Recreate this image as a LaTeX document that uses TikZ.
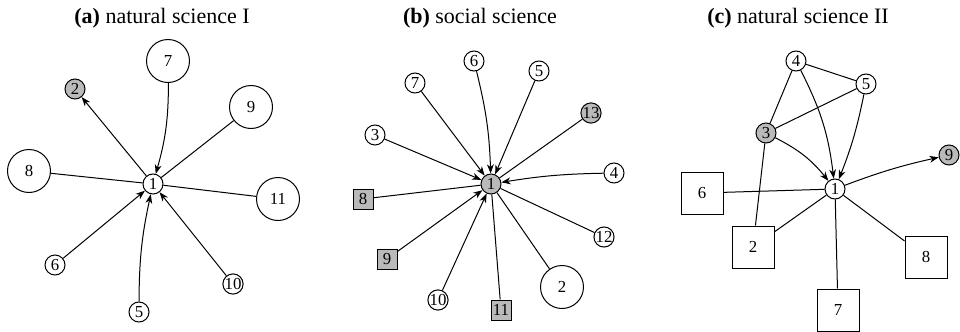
\documentclass[tikz,border=0pt]{standalone}
\usepackage{fontspec}
\setmainfont{Liberation Serif}
\usetikzlibrary{arrows.meta}
\begin{document}
\begin{tikzpicture}[x=0.5pt,y=-0.5pt,line width=0.5pt,
 every node/.style={font=\fontsize{8.4}{10}\selectfont, inner sep=0pt},
 sc/.style={circle,draw,minimum size=10pt},
 bc/.style={circle,draw,minimum size=21.5pt},
 ss/.style={rectangle,draw,minimum size=10pt},
 bs/.style={rectangle,draw,minimum size=21pt},
 gr/.style={fill=black!27},
 ttl/.style={font=\fontsize{11}{13}\selectfont},
 ar/.style={-{Stealth[length=4.6pt,width=3.4pt,inset=1.4pt]}}]
\useasboundingbox (0,0) rectangle (960,332);
% titles
\node[ttl] (ta) at (162,18) {\textbf{(a)} natural science I};
\node[ttl] (tb) at (480,18) {\textbf{(b)} social science};
\node[ttl] (tc) at (798,18) {\textbf{(c)} natural science II};
% panel a
\node[sc] (a1) at (153,184) {1};
\node[sc,gr] (a2) at (75,89) {2};
\node[bc] (a7) at (168,61) {7};
\node[bc] (a9) at (251,107) {9};
\node[bc] (a8) at (29,171) {8};
\node[bc] (a11) at (278,199) {11};
\node[sc] (a6) at (55,265) {6};
\node[sc] (a5) at (139,312) {5};
\node[sc] (a10) at (233,284) {10};
\draw[ar] (a1) -- (a2);
\draw[ar] (a7) to[bend left=8] (a1);
\draw (a9) -- (a1);
\draw (a8) -- (a1);
\draw (a11) -- (a1);
\draw[ar] (a6) -- (a1);
\draw[ar] (a5) to[bend left=6] (a1);
\draw[ar] (a10) -- (a1);
% panel b
\node[sc,gr] (b1) at (491,184) {1};
\node[sc] (b6) at (474,61) {6};
\node[sc] (b5) at (539,71) {5};
\node[sc] (b7) at (415,83) {7};
\node[sc,gr] (b13) at (591,113) {13};
\node[sc] (b3) at (375,135) {3};
\node[sc] (b4) at (614,173) {4};
\node[ss,gr] (b8) at (363,199) {8};
\node[sc] (b12) at (604,237) {12};
\node[ss,gr] (b9) at (387,259) {9};
\node[sc] (b10) at (438,300) {10};
\node[ss,gr] (b11) at (501,310) {11};
\node[bc] (b2) at (562,287) {2};
\draw[ar] (b6) to[bend left=6] (b1);
\draw[ar] (b5) -- (b1);
\draw[ar] (b7) -- (b1);
\draw[ar] (b3) -- (b1);
\draw (b13) -- (b1);
\draw[ar] (b4) to[bend right=4] (b1);
\draw (b8) -- (b1);
\draw (b12) -- (b1);
\draw[ar] (b9) -- (b1);
\draw[ar] (b10) -- (b1);
\draw (b11) -- (b1);
\draw (b2) -- (b1);
% panel c
\node[sc] (c1) at (835,189) {1};
\node[sc] (c4) at (796,61) {4};
\node[sc] (c5) at (866,84) {5};
\node[sc,gr] (c3) at (766,133) {3};
\node[sc,gr] (c9) at (949,155) {9};
\node[bs] (c6) at (702,193) {6};
\node[bs] (c2) at (753,247) {2};
\node[bs] (c8) at (926,257) {8};
\node[bs] (c7) at (838,310) {7};
\draw (c4) -- (c5);
\draw (c4) -- (c3);
\draw (c5) -- (c3);
\draw[ar] (c4) to[bend left=10] (c1);
\draw[ar] (c5) to[bend left=5] (c1);
\draw[ar] (c3) to[bend left=12] (c1);
\draw (c3) -- (c2);
\draw[ar] (c1) to[bend left=4] (c9);
\draw (c6) -- (c1);
\draw (c2) -- (c1);
\draw (c8) -- (c1);
\draw (c7) -- (c1);
\end{tikzpicture}
\end{document}
